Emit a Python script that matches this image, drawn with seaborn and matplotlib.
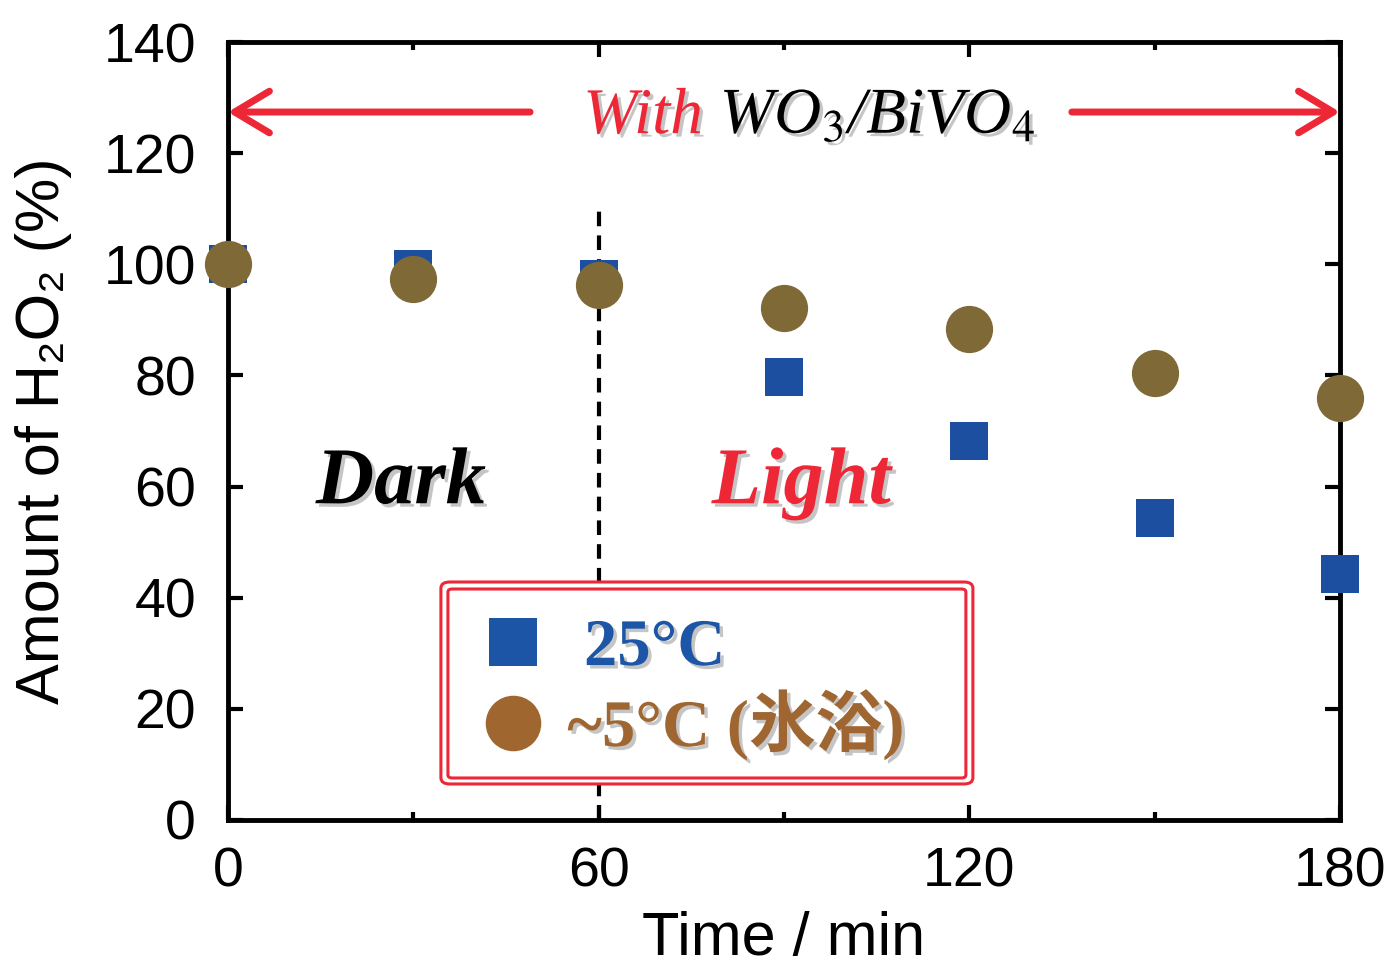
import numpy as np
import pandas as pd
import matplotlib
matplotlib.use("Agg")
import matplotlib.pyplot as plt
import matplotlib.patheffects as pe
from matplotlib.lines import Line2D
from matplotlib.patches import FancyBboxPatch
from matplotlib.ticker import MultipleLocator
import seaborn as sns

# ---- data ----
time_min = [0, 30, 60, 90, 120, 150, 180]
amount_25C = [100.0, 99.2, 97.4, 79.7, 68.2, 54.4, 44.2]
amount_5C = [100.0, 97.3, 96.3, 92.2, 88.4, 80.4, 75.9]
series_labels = [" 25°C", "~5°C (氷浴)"]
x_ticks = [0, 60, 120, 180]
y_ticks = [0, 20, 40, 60, 80, 100, 120, 140]

RED = "#ee2737"
BLUE = "#1d4fa0"
OLIVE = "#7f6a37"
LEG_BLUE = "#1d56a6"
LEG_BROWN = "#9f6631"

sns.set_theme(style="ticks")
plt.rcParams["font.family"] = ["Liberation Sans", "DejaVu Sans"]
plt.rcParams["mathtext.fontset"] = "stix"
plt.rcParams["text.color"] = "black"
plt.rcParams["axes.labelcolor"] = "black"
plt.rcParams["xtick.color"] = "black"
plt.rcParams["ytick.color"] = "black"

df = pd.DataFrame({"time": time_min, "a25": amount_25C, "a5": amount_5C})

fig = plt.figure(figsize=(13.9, 9.68), dpi=100)
ax = fig.add_axes([0.164, 0.1529, 0.8, 0.8037])

# dashed separator
ax.plot([60, 60], [0, 110.5], color="black", lw=3, linestyle=(0, (3.5, 2.2)), zorder=1)

sns.scatterplot(data=df, x="time", y="a25", marker="s", s=784, color=BLUE,
                linewidth=0, ax=ax, zorder=3, clip_on=False)
sns.scatterplot(data=df, x="time", y="a5", marker="o", s=1156, color=OLIVE,
                linewidth=0, ax=ax, zorder=4, clip_on=False)

ax.set_xlim(0, 180)
ax.set_ylim(0, 140)
ax.set_xticks(x_ticks)
ax.set_yticks(y_ticks)
ax.xaxis.set_minor_locator(MultipleLocator(30))
for s in ax.spines.values():
    s.set_linewidth(3.5)
    s.set_color("black")
ax.tick_params(axis="both", which="major", direction="in", length=11, width=3,
               labelsize=40, top=True, right=True, color="black", labelcolor="black")
ax.tick_params(axis="x", which="major", pad=19)
ax.tick_params(axis="y", which="major", pad=23)
ax.tick_params(axis="x", which="minor", direction="in", length=5.5, width=3,
               top=True, bottom=True)
ax.set_xlabel("Time / min", fontsize=44, labelpad=9, color="black")
ax.set_ylabel("Amount of H₂O₂ (%)", fontsize=44, labelpad=23, color="black")

shadow = [pe.withSimplePatchShadow(offset=(2.5, -2.5), shadow_rgbFace="gray", alpha=0.45)]

# Title with arrows
arrow_kw = dict(arrowstyle="->,head_length=1.25,head_width=0.75", lw=5, color=RED,
                mutation_scale=20, shrinkA=0, shrinkB=0, capstyle="round",
                joinstyle="round")
ax.annotate("", xy=(0, 127.4), xytext=(48.9, 127.4), arrowprops=arrow_kw,
            annotation_clip=False, zorder=5)
ax.annotate("", xy=(180, 127.4), xytext=(136.6, 127.4), arrowprops=arrow_kw,
            annotation_clip=False, zorder=5)
ax.text(57.5, 123.6, "With", color=RED, fontsize=47, family="Liberation Serif",
        style="italic", ha="left", va="baseline", path_effects=shadow)
ax.text(79.6, 123.6, "WO$_\\mathit{3}$/BiVO$_\\mathit{4}$", color="black", fontsize=47,
        family="Liberation Serif", style="italic", ha="left", va="baseline",
        path_effects=shadow)

ax.text(28.0, 57.0, "Dark", color="black", fontsize=58, family="Liberation Serif",
        style="italic", weight="bold", ha="center", va="baseline", path_effects=shadow)
ax.text(92.8, 57.0, "Light", color=RED, fontsize=58, family="Liberation Serif",
        style="italic", weight="bold", ha="center", va="baseline", path_effects=shadow)

# legend box (double red frame)
outer = FancyBboxPatch((0.1915, 0.0463), 0.4784, 0.2596, transform=ax.transAxes,
                       boxstyle="round,pad=0,rounding_size=0.008", facecolor="white",
                       edgecolor=RED, lw=2.2, zorder=6)
inner = FancyBboxPatch((0.1978, 0.054), 0.4658, 0.2429, transform=ax.transAxes,
                       boxstyle="round,pad=0,rounding_size=0.004", facecolor="none",
                       edgecolor=RED, lw=2.2, zorder=6)
ax.add_patch(outer)
ax.add_patch(inner)

handles = [
    Line2D([], [], marker="s", linestyle="none", markersize=34,
           markerfacecolor="#1c55a6", markeredgewidth=0),
    Line2D([], [], marker="o", linestyle="none", markersize=40,
           markerfacecolor="#a0662f", markeredgewidth=0),
]
leg = ax.legend(handles, series_labels, loc="center left",
                bbox_to_anchor=(0.2266, 0.168), frameon=False, borderpad=0,
                borderaxespad=0, handlelength=1.0, handletextpad=0.31,
                labelspacing=0.15,
                prop={"family": ["Liberation Serif", "Noto Sans CJK JP"],
                      "weight": "bold", "size": 48},
                labelcolor=[LEG_BLUE, LEG_BROWN])
leg.set_zorder(7)
for t in leg.get_texts():
    t.set_path_effects(shadow)

fig.savefig("out.png", dpi=100)
